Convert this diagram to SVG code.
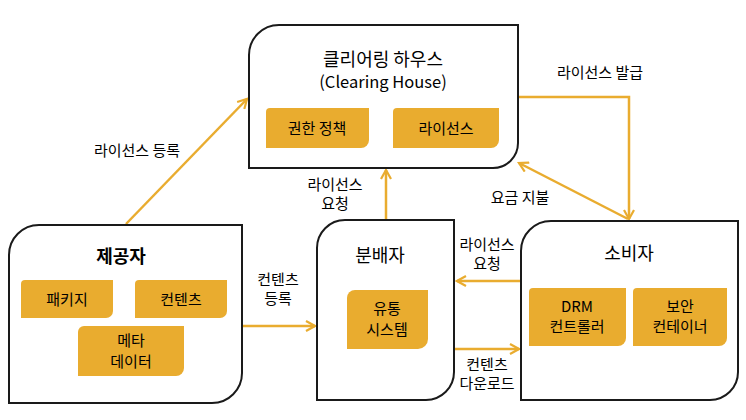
<svg xmlns="http://www.w3.org/2000/svg" width="746" height="420" viewBox="0 0 746 420">
<defs>
<style>
.box{fill:#fff;stroke:#1a1a1a;stroke-width:2}
.inner{fill:#E9AC2F}
.t{font-family:"Noto Sans CJK KR","Noto Sans",sans-serif;fill:#000;text-anchor:middle}
.title{font-size:18px}
.in{font-size:15px}
.lbl{font-size:15px}
.c{fill:none;stroke:#E9AC2F;stroke-width:2.5}
</style>
<marker id="ah" viewBox="0 0 12 12" refX="10" refY="6" markerWidth="12" markerHeight="12" markerUnits="userSpaceOnUse" orient="auto-start-reverse">
<path d="M1,1 L10,6 L1,11" fill="none" stroke="#E9AC2F" stroke-width="2.2"/>
</marker>
</defs>
<rect width="746" height="420" fill="#fff"/>

<g id="connectors">
<line class="c" x1="126" y1="224" x2="247" y2="99" marker-end="url(#ah)"/>
<line class="c" x1="386" y1="220" x2="386" y2="170" marker-end="url(#ah)"/>
<polyline class="c" points="518,97 629,97 629,219" marker-end="url(#ah)"/>
<line class="c" x1="628" y1="219" x2="519" y2="163" marker-end="url(#ah)"/>
<line class="c" x1="242" y1="326" x2="315" y2="326" marker-end="url(#ah)"/>
<line class="c" x1="521" y1="281" x2="457" y2="281" marker-end="url(#ah)"/>
<line class="c" x1="455" y1="349" x2="519" y2="349" marker-end="url(#ah)"/>
<text class="t lbl" x="137" y="156">라이선스 등록</text>
<text class="t lbl" x="335" y="190">라이선스</text>
<text class="t lbl" x="335" y="209">요청</text>
<text class="t lbl" x="600" y="78">라이선스 발급</text>
<text class="t lbl" x="520" y="203">요금 지불</text>
<text class="t lbl" x="278" y="285">컨텐츠</text>
<text class="t lbl" x="278" y="304">등록</text>
<text class="t lbl" x="487" y="250">라이선스</text>
<text class="t lbl" x="487" y="269">요청</text>
<text class="t lbl" x="487" y="370">컨텐츠</text>
<text class="t lbl" x="487" y="389">다운로드</text>
</g>

<g id="clearing-house">
<path class="box" d="M279,25 H518 V143 A25,25 0 0 1 493,168 H249 V55 A30,30 0 0 1 279,25 Z"/>
<text class="t title" x="383" y="66">클리어링 하우스</text>
<text class="t in" x="383" y="88" style="font-size:16.5px">(Clearing House)</text>
<path class="inner" d="M270,108 H369 V140 A8,8 0 0 1 361,148 H266 V112 A4,4 0 0 1 270,108 Z"/>
<text class="t in" x="317" y="134">권한 정책</text>
<path class="inner" d="M397,108 H499 V140 A8,8 0 0 1 491,148 H393 V112 A4,4 0 0 1 397,108 Z"/>
<text class="t in" x="446" y="134">라이선스</text>
</g>

<g id="provider">
<path class="box" d="M39,225 H242 V373 A30,30 0 0 1 212,403 H9 V255 A30,30 0 0 1 39,225 Z"/>
<text class="t title" x="121" y="263" style="font-weight:bold">제공자</text>
<path class="inner" d="M25,280 H113 V311 A7,7 0 0 1 106,318 H21 V284 A4,4 0 0 1 25,280 Z"/>
<text class="t in" x="67" y="305">패키지</text>
<path class="inner" d="M139,280 H227 V311 A7,7 0 0 1 220,318 H135 V284 A4,4 0 0 1 139,280 Z"/>
<text class="t in" x="181" y="305">컨텐츠</text>
<path class="inner" d="M84,326 H184 V368 A8,8 0 0 1 176,376 H78 V332 A6,6 0 0 1 84,326 Z"/>
<text class="t in" x="131" y="346">메타</text>
<text class="t in" x="131" y="367">데이터</text>
</g>

<g id="distributor">
<path class="box" d="M345,220 H454 V372 A28,28 0 0 1 426,400 H317 V248 A28,28 0 0 1 345,220 Z"/>
<text class="t title" x="380" y="262">분배자</text>
<path class="inner" d="M355,290 H428 V339 A10,10 0 0 1 418,349 H347 V298 A8,8 0 0 1 355,290 Z"/>
<text class="t in" x="387" y="314">유통</text>
<text class="t in" x="387" y="335">시스템</text>
</g>

<g id="consumer">
<path class="box" d="M551,221 H738 V372 A28,28 0 0 1 710,400 H521 V251 A30,30 0 0 1 551,221 Z"/>
<text class="t title" x="629" y="260">소비자</text>
<path class="inner" d="M533,288 H626 V338 A8,8 0 0 1 618,346 H529 V292 A4,4 0 0 1 533,288 Z"/>
<text class="t in" x="577" y="312">DRM</text>
<text class="t in" x="577" y="332">컨트롤러</text>
<path class="inner" d="M637,288 H727 V338 A8,8 0 0 1 719,346 H633 V292 A4,4 0 0 1 637,288 Z"/>
<text class="t in" x="680" y="312">보안</text>
<text class="t in" x="680" y="332">컨테이너</text>
</g>
</svg>
